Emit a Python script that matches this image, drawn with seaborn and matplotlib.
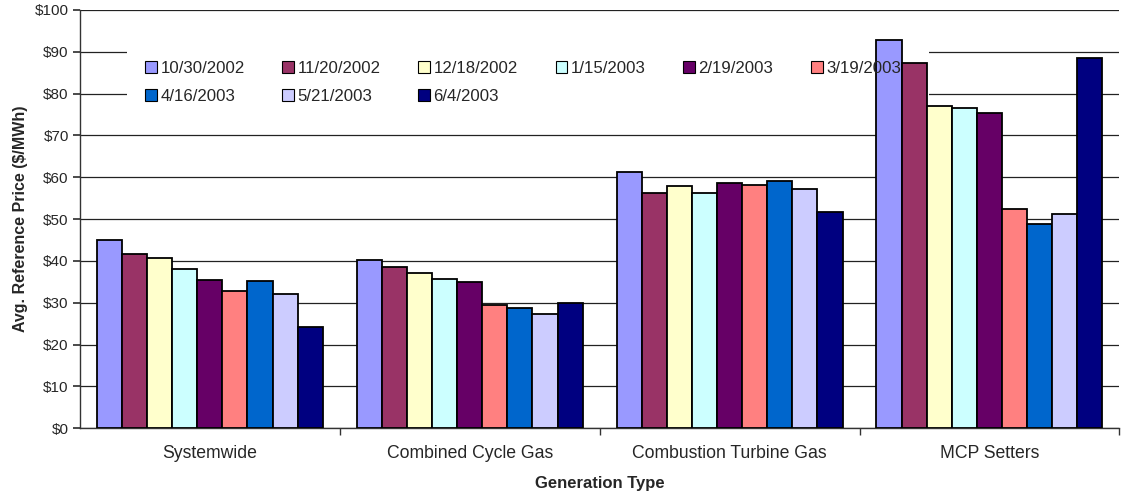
import matplotlib
matplotlib.use("Agg")
import matplotlib.pyplot as plt
import seaborn as sns
import pandas as pd
from matplotlib.ticker import FuncFormatter, FixedLocator
from matplotlib.patches import Rectangle

categories = ["Systemwide", "Combined Cycle Gas", "Combustion Turbine Gas", "MCP Setters"]
dates = ["10/30/2002", "11/20/2002", "12/18/2002", "1/15/2003", "2/19/2003",
         "3/19/2003", "4/16/2003", "5/21/2003", "6/4/2003"]
s_1030 = [44.9, 40.2, 61.3, 92.9]
s_1120 = [41.6, 38.5, 56.3, 87.2]
s_1218 = [40.8, 37.1, 57.9, 77.0]
s_0115 = [38.1, 35.6, 56.3, 76.5]
s_0219 = [35.4, 34.9, 58.5, 75.3]
s_0319 = [32.8, 29.4, 58.2, 52.4]
s_0416 = [35.1, 28.8, 59.2, 48.8]
s_0521 = [32.1, 27.4, 57.3, 51.1]
s_0604 = [24.3, 30.0, 51.6, 88.6]
series = [s_1030, s_1120, s_1218, s_0115, s_0219, s_0319, s_0416, s_0521, s_0604]
colors = ["#9999FF", "#993366", "#FFFFCC", "#CCFFFF", "#660066",
          "#FF8080", "#0066CC", "#CCCCFF", "#000080"]

rows = []
for d, vals in zip(dates, series):
    for c, v in zip(categories, vals):
        rows.append({"Generation Type": c, "Date": d, "Price": v})
df = pd.DataFrame(rows)

sns.set_theme(style="white")
plt.rcParams["font.family"] = ["Liberation Sans", "DejaVu Sans"]

fig = plt.figure(figsize=(11.25, 4.95), dpi=100)
ax = fig.add_axes([0.071, 0.135, 0.924, 0.845])

sns.barplot(data=df, x="Generation Type", y="Price", hue="Date", order=categories,
            hue_order=dates, palette=colors, width=0.87, edgecolor="black",
            linewidth=1.3, saturation=1, ax=ax, zorder=3)

ax.set_ylim(0, 100)
ax.set_xlim(-0.5, 3.5)
ax.set_yticks(range(0, 101, 10))
ax.yaxis.set_major_formatter(FuncFormatter(lambda v, p: f"${int(v)}"))
ax.grid(axis="y", color="#222222", linewidth=0.9, zorder=0)
ax.set_axisbelow(True)
for s in ["top", "right"]:
    ax.spines[s].set_visible(False)
for s in ["left", "bottom"]:
    ax.spines[s].set_color("#333333")
    ax.spines[s].set_linewidth(1.0)

# white legend area masking the gridlines (below the bars)
ax.add_patch(Rectangle((0.045, 0.76), 0.772, 0.155, transform=ax.transAxes,
                       facecolor="white", edgecolor="none", zorder=1))

ax.tick_params(axis="y", which="major", length=5, color="#333333", direction="out",
               left=True, labelsize=11, pad=3)
ax.tick_params(axis="x", which="major", length=0, labelsize=12.7, pad=12)
ax.xaxis.set_minor_locator(FixedLocator([0.5, 1.5, 2.5, 3.5]))
ax.tick_params(axis="x", which="minor", length=5, color="#333333", bottom=True, direction="out")

ax.set_ylabel("Avg. Reference Price ($/MWh)", fontsize=11.5, fontweight="bold", labelpad=5)
ax.set_xlabel("Generation Type", fontsize=12, fontweight="bold", labelpad=10)

handles, labels = ax.get_legend_handles_labels()
order = [0, 6, 1, 7, 2, 8, 3, 4, 5]
leg = ax.legend([handles[i] for i in order], [labels[i] for i in order],
                ncol=6, loc="upper left", bbox_to_anchor=(0.05, 0.91), frameon=False,
                fontsize=12.1, handlelength=0.7, handleheight=0.7, handletextpad=0.2,
                columnspacing=2.25, borderpad=0.3, labelspacing=0.75)
leg.set_zorder(5)
for h in leg.legend_handles:
    h.set_edgecolor("black")
    h.set_linewidth(0.8)

fig.savefig("out.png", dpi=100, facecolor="white")
